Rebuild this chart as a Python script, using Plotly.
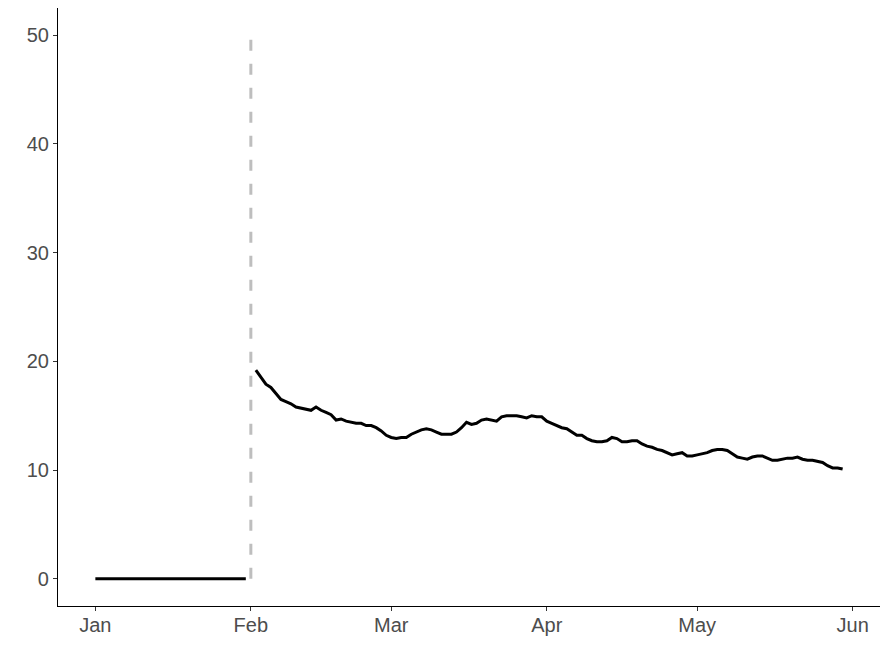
import pandas as pd
import plotly.graph_objects as go

# Data
zero_start = "2021-01-01"
zero_end = "2021-01-31"
zero_values = [0, 0, 0, 0, 0, 0, 0, 0, 0, 0, 0, 0, 0, 0, 0, 0, 0, 0, 0, 0,
               0, 0, 0, 0, 0, 0, 0, 0, 0, 0, 0]

series_start = "2021-02-02"
series_end = "2021-05-30"
series_values = [
    19.2, 18.5, 17.9, 17.6, 17.0, 16.5, 16.3, 16.1, 15.8, 15.7,
    15.6, 15.5, 15.8, 15.5, 15.3, 15.1, 14.6, 14.7, 14.5, 14.4,
    14.3, 14.3, 14.1, 14.1, 13.9, 13.6, 13.2, 13.0, 12.9, 13.0,
    13.0, 13.3, 13.5, 13.7, 13.8, 13.7, 13.5, 13.3, 13.3, 13.3,
    13.5, 13.9, 14.4, 14.2, 14.3, 14.6, 14.7, 14.6, 14.5, 14.9,
    15.0, 15.0, 15.0, 14.9, 14.8, 15.0, 14.9, 14.9, 14.5, 14.3,
    14.1, 13.9, 13.8, 13.5, 13.2, 13.2, 12.9, 12.7, 12.6, 12.6,
    12.7, 13.0, 12.9, 12.6, 12.6, 12.7, 12.7, 12.4, 12.2, 12.1,
    11.9, 11.8, 11.6, 11.4, 11.5, 11.6, 11.3, 11.3, 11.4, 11.5,
    11.6, 11.8, 11.9, 11.9, 11.8, 11.5, 11.2, 11.1, 11.0, 11.2,
    11.3, 11.3, 11.1, 10.9, 10.9, 11.0, 11.1, 11.1, 11.2, 11.0,
    10.9, 10.9, 10.8, 10.7, 10.4, 10.2, 10.2, 10.1,
]

event_date = "2021-02-01"
event_range = [0, 50]

x_tick_dates = ["2021-01-01", "2021-02-01", "2021-03-01", "2021-04-01", "2021-05-01", "2021-06-01"]
x_tick_labels = ["Jan", "Feb", "Mar", "Apr", "May", "Jun"]
y_tick_values = [0, 10, 20, 30, 40, 50]

zero_dates = pd.date_range(zero_start, zero_end, freq="D")
series_dates = pd.date_range(series_start, series_end, freq="D")

fig = go.Figure()
fig.add_trace(go.Scatter(
    x=[event_date, event_date], y=event_range, mode="lines",
    line=dict(color="#BEBEBE", width=3, dash="11px,13px"),
    showlegend=False, hoverinfo="skip"))
fig.add_trace(go.Scatter(
    x=zero_dates, y=zero_values, mode="lines",
    line=dict(color="black", width=3), showlegend=False))
fig.add_trace(go.Scatter(
    x=series_dates, y=series_values, mode="lines",
    line=dict(color="black", width=3), showlegend=False))

font_family = "Liberation Sans, Arial, sans-serif"
fig.update_layout(
    width=880, height=648,
    margin=dict(l=50, r=8, t=0, b=50),
    paper_bgcolor="white", plot_bgcolor="white",
    font=dict(family=font_family, size=20, color="#4D4D4D"),
    xaxis=dict(
        type="date",
        range=["2020-12-24 13:12", "2021-06-06 10:48"],
        tickvals=x_tick_dates, ticktext=x_tick_labels,
        showgrid=False, zeroline=False,
        showline=True, linecolor="black", linewidth=1.2,
        ticks="outside", ticklen=4, tickcolor="#333333", tickwidth=1.2,
        ticklabelstandoff=-3,
        tickfont=dict(size=20, color="#4D4D4D", family=font_family),
    ),
    yaxis=dict(
        range=[-2.5, 52.5],
        tickvals=y_tick_values,
        showgrid=False, zeroline=False,
        showline=True, linecolor="black", linewidth=1.2,
        ticks="outside", ticklen=4, tickcolor="#333333", tickwidth=1.2,
        tickfont=dict(size=20, color="#4D4D4D", family=font_family),
    ),
)

fig.write_html("out.html")
